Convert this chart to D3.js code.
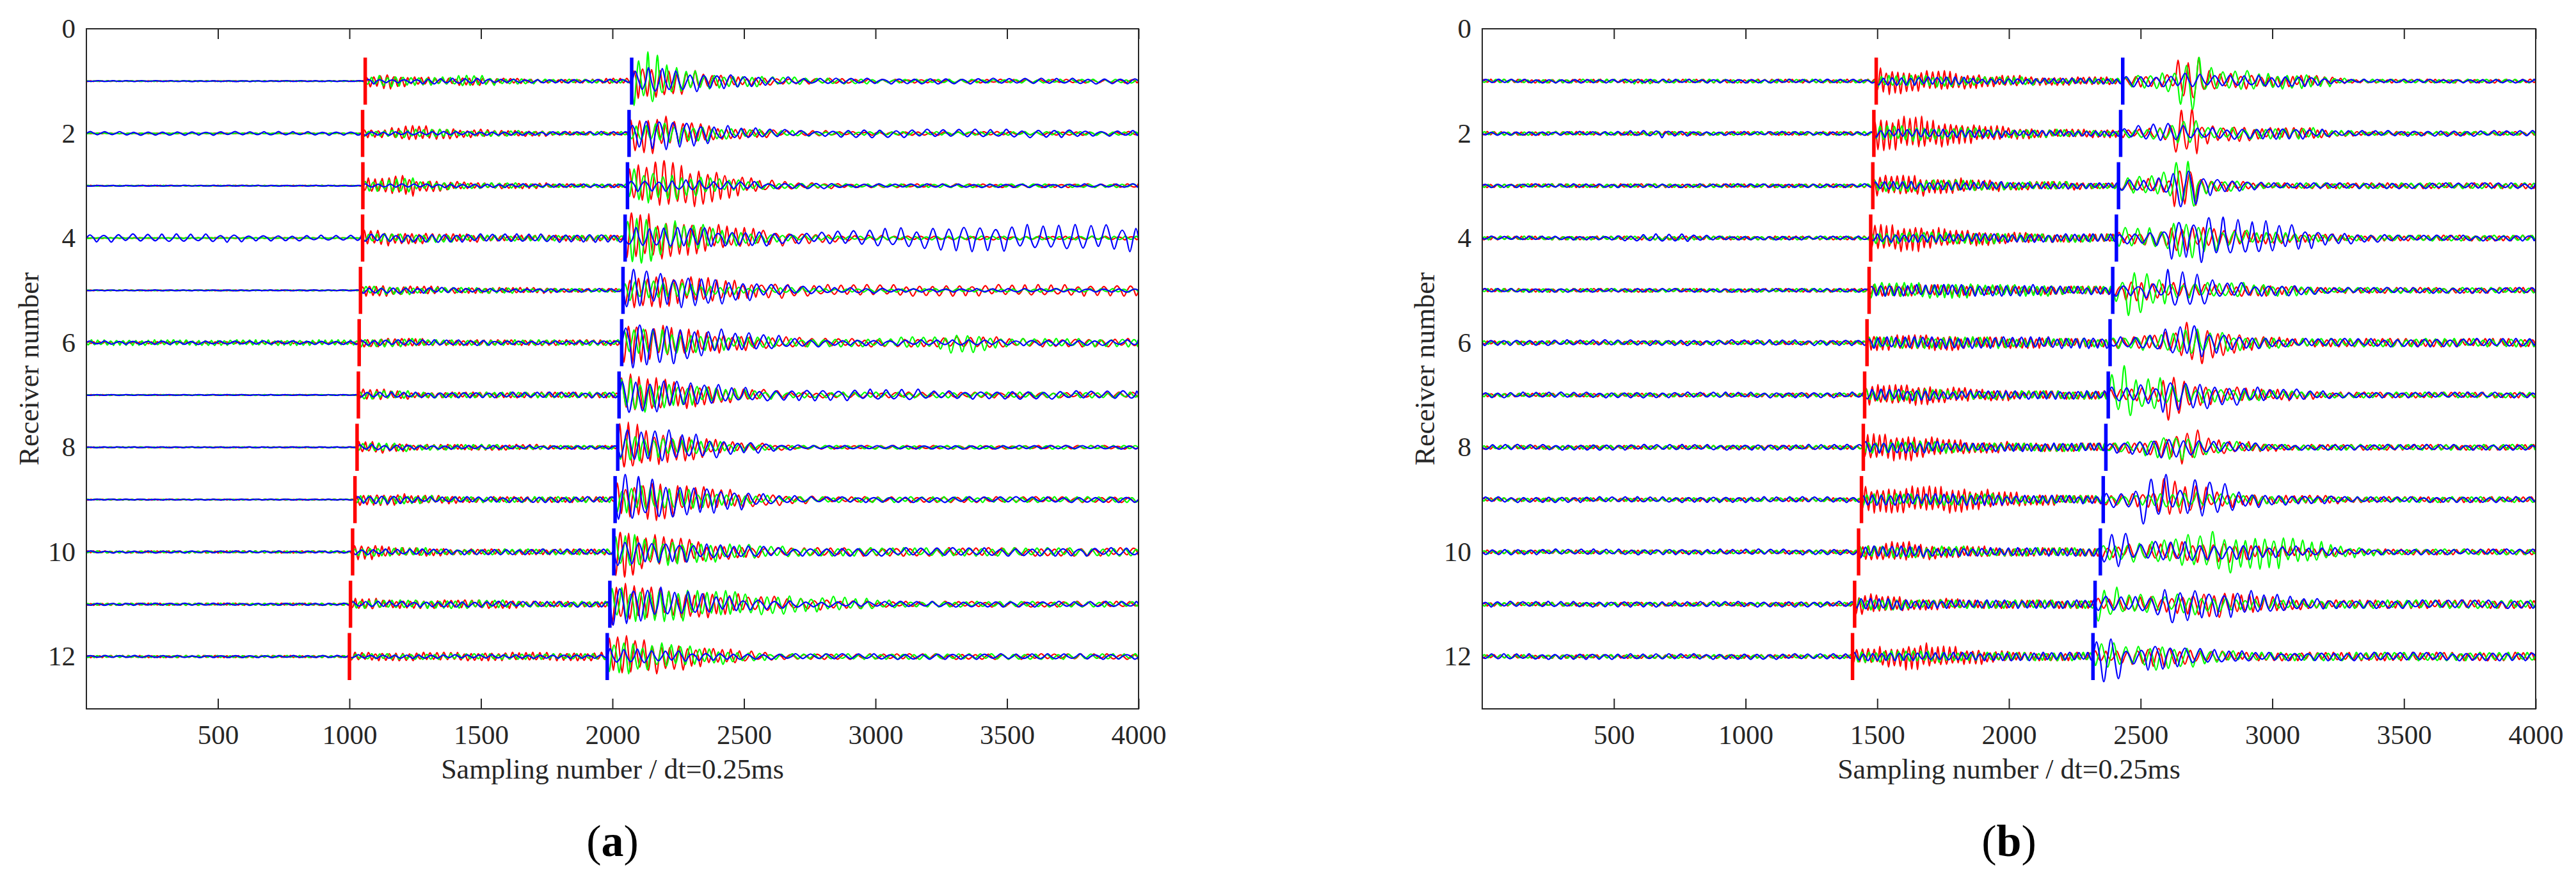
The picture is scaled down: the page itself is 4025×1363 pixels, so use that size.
<!DOCTYPE html>
<html>
<head>
<meta charset="utf-8">
<script src="https://cdn.jsdelivr.net/npm/d3@7"></script>
<style>
  html, body { margin: 0; padding: 0; background: #fff; }
  svg { display: block; }
</style>
</head>
<body>
<div id="chart"></div>
<script>
// ---- data ----
const receivers = [1, 2, 3, 4, 5, 6, 7, 8, 9, 10, 11, 12];
const xTicks = [500, 1000, 1500, 2000, 2500, 3000, 3500, 4000];
const yTicks = [0, 2, 4, 6, 8, 10, 12];
const nSamples = 4000;

// first-arrival picks (sampling number) per receiver
const pPickA = [1060, 1050, 1051, 1050, 1042, 1037, 1034, 1029, 1021, 1012, 1004, 1000];
const sPickA = [2073, 2063, 2057, 2048, 2040, 2035, 2025, 2020, 2010, 2005, 1990, 1980];
const pPickB = [1496, 1487, 1483, 1475, 1469, 1461, 1452, 1447, 1440, 1429, 1414, 1406];
const sPickB = [2432, 2424, 2416, 2408, 2394, 2384, 2377, 2368, 2358, 2347, 2327, 2319];

// amplitude level per code (receiver-spacing units)
const levels = [0.008, 0.02, 0.035, 0.055, 0.08, 0.11, 0.15, 0.2, 0.26, 0.33, 0.4, 0.48, 0.56];
const binSize = 50;
const ampJitter = [1, 0.74, 0.92, 0.62, 0.97, 0.81, 0.58, 1, 0.7, 0.88, 0.66, 0.94, 0.78];
const periodJitter = [1, 0.84, 1.13, 0.93, 1.07, 0.88, 1.16, 0.96, 1.04];

// dominant periods in samples: [before P, P..S, S..S+500, later]
const periodsA = [[22, 26, 33, 50], [24, 30, 36, 42], [55, 46, 52, 60]];  // red, green, blue
const periodsB = [[26, 22, 40, 30], [30, 28, 46, 36], [48, 34, 56, 50]];

// envelope codes, one char per 50 samples: "before P | after P | after S"
const redA = [
  "0|5654433443332222223|998876554443333332",
  "0|4456655444333322222|9a987765544333322222",
  "0|6677554433333322222|aabbaa98765443332222",
  "0|6655544443333333333|bbaa9988776655443333222222",
  "0|5544443333333332222|99998887766665555555",
  "1|4444433333333333333|aa9988776655554444444444555554444",
  "0|5544333333333333333|aa998876655443333",
  "0|5544333333333322222|bb998876544332222",
  "0|5555444433333333333|99aa988776655443333",
  "1|6654444333333333333|bb998876655444444",
  "1|5544444444444333333|aa998888776665555444333",
  "1|4444444444444444444|aa9988776654433333"
];
const greenA = [
  "0|4554444554333222222|bc98766555444333332",
  "0|3344444333332222222|66776655443333222222",
  "0|5566444333332222222|998877655443332222",
  "0|4444444333333333333|bb998876654433322222",
  "0|4444333333332222222|7776655443333322222",
  "3|4444433333333333333|88887766555544444444455567765444",
  "0|4444333333333333333|998877665544333",
  "0|4444333333322222222|887766554433222",
  "0|4444443333333333333|888777665544333",
  "1|4444443333333333333|99888777666555444444",
  "1|4444444444443333333|9999998888777766665544333",
  "1|3333333333333333333|99888776654433333"
];
const blueA = [
  "0|3222333332222222222|7887766655443333333",
  "2|2222222222222222222|89988766554433334444444444444444443",
  "0|2222222222222222222|555555444433333322222",
  "4444444444443333333333|4444444444444444444|7777777666655556666777788888888",
  "0|3333333322222222222|aa99998877655443333322222",
  "2|3333333333222222222|bbaa99887766544333333",
  "0|3333333333333333333|9999887766555555555555544444",
  "0|3333222222222222222|9999887765543322",
  "0|4444333333333333333|bbaa99887765443333",
  "1|3333333333333333333|887777666555444",
  "1|3333333333333333333|aa998877665544333",
  "1|2222222222222222222|666555444333"
];
const redB = [
  "2|88777766555444444433|4556ab7666555554322",
  "2|99998877665544444443|4456bb76665555543322",
  "2|7777666555444444333|5566aa6554333333",
  "2|88887766655544444444|5566887766555444433333",
  "2|5555555544444444444|5776665555554433333",
  "2|6666666555555544444|55667aa98765544444",
  "2|77777666555444444444|5566ba77666555443333",
  "2|88887766555444444444|4556799765544333",
  "2|88888888776655544444|5566aa886655444444333",
  "2|66776655554444444444|55666777776655544433",
  "2|7766555544444444444|55666677887766554444",
  "2|66778877665544444444|55667766554444"
];
const greenB = [
  "2222222222233222222222222222222|5555554444443333333|5667bc877766665532",
  "2|66665555444444433333|4456885555555554332",
  "2|5555555544444443333|6778bb6554333",
  "2|5555555555444444444|7777aa886655544433333",
  "2|6666666655555544444|8bb866666655554433333",
  "2|5555555555544444444|55667887765554444",
  "2|5555554444444444444|bc997766655544333",
  "2|5555555444444444444|4557887655443333",
  "2|5555555555444444444|44556666554444333",
  "2|5555555544444444444|66778899aa99998876554333",
  "2|5555444444444444444|99776677665555444",
  "2|5555555444444444444|887788776554444"
];
const blueB = [
  "2|4444444333333333333|5555665555555543222",
  "22222222222334332222222222222|4444444444333333333|56776555555555443333",
  "2|4444444444333333333|5566aa76554333",
  "22222222223344443322222222222|4444444444444444444|5566aabbaa9988765544433333",
  "2|5555555555555444444|5566aa9766555544333333",
  "3|5555555555555555555|5566899876554444",
  "3|5555544444444444444|667799887766555443333",
  "3|5555554444444444444|5566776655443333",
  "3|5555555555544444444|668bb7aa996655444433",
  "3|5555544444444444444|9a6677776666555444333",
  "3|5555444444444444444|66667a99888877655544",
  "3|4444444444444444444|bb66887766554444"
];

const traceColors = ["#ff0000", "#00ff00", "#0000ff"];
const panelLabels = ["a", "b"];

// ---- layout ----
const W = 4025, H = 1363;
const plotTop = 45, plotBottom = 1108;
const panels = [
  { left: 135, right: 1779, pP: pPickA, sP: sPickA, per: periodsA, codes: [redA, greenA, blueA] },
  { left: 2316, right: 3962, pP: pPickB, sP: sPickB, per: periodsB, codes: [redB, greenB, blueB] }
];
const ink = "#262626";
const fontFam = "'Liberation Serif', 'Times New Roman', serif";

const svg = d3.select("#chart").append("svg")
  .attr("width", W).attr("height", H)
  .style("background", "#fff");

function tracePoints(spec, P, S, per, seed) {
  const parts = spec.split("|");
  const segs = [[0, P, parts[0]], [P, S, parts[1]], [S, nSamples, parts[2]]];
  const pts = [[0, 0]];
  let k = seed, sign = seed % 2 ? 1 : -1;
  segs.forEach(([a, b, str], si) => {
    let x = a;
    if (a - pts[pts.length - 1][0] > 0.5) pts.push([a, 0]);
    while (x < b - 2) {
      const period = si < 2 ? per[si] : (x - S < 500 ? per[2] : per[3]);
      let half = period / 2 * periodJitter[k % periodJitter.length];
      if (x + half > b) half = b - x;
      const mid = x + half / 2;
      const ci = Math.min(Math.floor((mid - a) / binSize), str.length - 1);
      const amp = levels[parseInt(str[ci], 16)] * ampJitter[k % ampJitter.length];
      pts.push([mid, sign * amp]);
      x += half;
      pts.push([x, 0]);
      sign = -sign;
      k++;
    }
  });
  return pts;
}

panels.forEach((p, pi) => {
  const x = d3.scaleLinear().domain([0, nSamples]).range([p.left, p.right]);
  const y = d3.scaleLinear().domain([0, 13]).range([plotTop, plotBottom]);
  const g = svg.append("g");

  // axes (inward ticks on all four sides)
  const styleAxis = sel => {
    sel.select(".domain").remove();
    sel.selectAll("line").attr("stroke", ink).attr("stroke-width", 2);
    sel.selectAll("text").attr("fill", ink).attr("font-family", fontFam).attr("font-size", 43);
  };
  g.append("g").attr("transform", `translate(0,${plotBottom})`)
    .call(d3.axisBottom(x).tickValues(xTicks).tickFormat(d3.format("d"))
      .tickSizeInner(-16).tickSizeOuter(0).tickPadding(24))
    .call(styleAxis);
  g.append("g").attr("transform", `translate(0,${plotTop})`)
    .call(d3.axisTop(x).tickValues(xTicks).tickSizeInner(-16).tickSizeOuter(0).tickFormat(""))
    .call(styleAxis);
  g.append("g").attr("transform", `translate(${p.left},0)`)
    .call(d3.axisLeft(y).tickValues(yTicks).tickFormat(d3.format("d"))
      .tickSizeInner(0).tickSizeOuter(0).tickPadding(17))
    .call(styleAxis);

  const clipId = "clip" + pi;
  svg.append("clipPath").attr("id", clipId).append("rect")
    .attr("x", p.left).attr("y", plotTop)
    .attr("width", p.right - p.left).attr("height", plotBottom - plotTop);

  // traces: red, then green, then blue on top
  const traces = g.append("g").attr("clip-path", `url(#${clipId})`);
  p.codes.forEach((codes, ci) => {
    receivers.forEach((r, ri) => {
      const pts = tracePoints(codes[ri], p.pP[ri], p.sP[ri], p.per[ci], ri * 7 + ci * 3 + pi * 5);
      const line = d3.line()
        .x(d => x(d[0]))
        .y(d => y(r - d[1]))
        .curve(d3.curveMonotoneX);
      traces.append("path")
        .attr("d", line(pts))
        .attr("fill", "none")
        .attr("stroke", traceColors[ci])
        .attr("stroke-width", 2.2)
        .attr("stroke-linejoin", "round");
    });
  });

  // picked arrivals as dashed marks
  [[p.pP, "#ff0000"], [p.sP, "#0000ff"]].forEach(([picks, col]) => {
    g.append("g").selectAll("line").data(receivers).join("line")
      .attr("x1", (r, i) => x(picks[i])).attr("x2", (r, i) => x(picks[i]))
      .attr("y1", r => y(r - 0.45)).attr("y2", r => y(r + 0.45))
      .attr("stroke", col).attr("stroke-width", 5.5);
  });

  // box
  g.append("rect")
    .attr("x", p.left).attr("y", plotTop)
    .attr("width", p.right - p.left).attr("height", plotBottom - plotTop)
    .attr("fill", "none").attr("stroke", ink).attr("stroke-width", 2);

  const cx = (p.left + p.right) / 2;
  g.append("text")
    .attr("x", cx).attr("y", 1217)
    .attr("text-anchor", "middle")
    .attr("font-family", fontFam).attr("font-size", 44).attr("fill", ink)
    .text("Sampling number / dt=0.25ms");

  g.append("text")
    .attr("transform", `translate(${p.left - 75},${(plotTop + plotBottom) / 2}) rotate(-90)`)
    .attr("text-anchor", "middle")
    .attr("font-family", fontFam).attr("font-size", 44).attr("fill", ink)
    .text("Receiver number");

  const lab = g.append("text")
    .attr("x", cx).attr("y", 1338)
    .attr("text-anchor", "middle")
    .attr("font-family", fontFam).attr("font-size", 70).attr("fill", "#000");
  lab.append("tspan").text("(");
  lab.append("tspan").attr("font-weight", "bold").text(panelLabels[pi]);
  lab.append("tspan").text(")");
});
</script>
</body>
</html>
